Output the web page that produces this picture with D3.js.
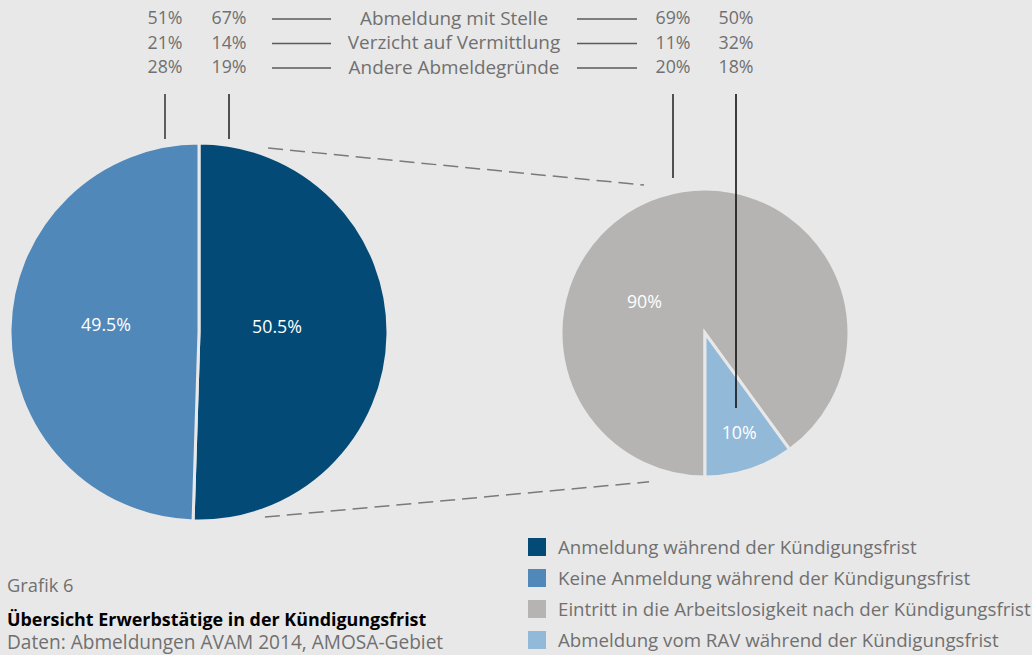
<!DOCTYPE html>
<html><head><meta charset="utf-8">
<script src="https://cdn.jsdelivr.net/npm/d3@7"></script>
<style>
html,body{margin:0;padding:0;background:#e8e8e8;}
svg{display:block;}
text{font-family:"Open Sans",sans-serif;}
</style></head>
<body>
<svg id="chart" width="1032" height="655"></svg>
<script>
// ---- data ----
const bigCategories = ["Anmeldung während der Kündigungsfrist", "Keine Anmeldung während der Kündigungsfrist"];
const bigValues = [50.5, 49.5];
const bigLabels = ["50.5%", "49.5%"];
const smallCategories = ["Eintritt in die Arbeitslosigkeit nach der Kündigungsfrist", "Abmeldung vom RAV während der Kündigungsfrist"];
const smallValues = [90, 10];
const smallLabels = ["90%", "10%"];
const reasons = ["Abmeldung mit Stelle", "Verzicht auf Vermittlung", "Andere Abmeldegründe"];
// columns: Keine Anmeldung, Anmeldung, Eintritt ALO, Abmeldung RAV
const reasonKeine = ["51%", "21%", "28%"];
const reasonAnmeldung = ["67%", "14%", "19%"];
const reasonEintritt = ["69%", "11%", "20%"];
const reasonAbmeldungRAV = ["50%", "32%", "18%"];
const legendItems = ["Anmeldung während der Kündigungsfrist", "Keine Anmeldung während der Kündigungsfrist", "Eintritt in die Arbeitslosigkeit nach der Kündigungsfrist", "Abmeldung vom RAV während der Kündigungsfrist"];
const titleSmall = "Grafik 6";
const titleMain = "Übersicht Erwerbstätige in der Kündigungsfrist";
const titleSource = "Daten: Abmeldungen AVAM 2014, AMOSA-Gebiet";

// ---- styles ----
const BG = "#e8e8e8";
const colors = ["#034b76", "#5088b9", "#b5b4b2", "#92b9d8"];
const textGray = "#707070";

const svg = d3.select("#chart");
svg.append("rect").attr("width", 1032).attr("height", 655).attr("fill", BG);

// ---- big pie ----
const big = {cx: 199, cy: 332, r: 189};
const bigPie = d3.pie().sort(null).startAngle(0).endAngle(2 * Math.PI)(bigValues);
const bigArc = d3.arc().innerRadius(0).outerRadius(big.r);
const gBig = svg.append("g").attr("transform", `translate(${big.cx},${big.cy})`);
gBig.selectAll("path").data(bigPie).join("path")
  .attr("d", bigArc)
  .attr("fill", (d, i) => colors[i])
  .attr("stroke", BG).attr("stroke-width", 3);
const bigLabelR = [78, 93];
gBig.selectAll("text").data(bigPie).join("text")
  .attr("x", (d, i) => bigLabelR[i] * Math.sin((d.startAngle + d.endAngle) / 2))
  .attr("y", (d, i) => -bigLabelR[i] * Math.cos((d.startAngle + d.endAngle) / 2) - 6)
  .attr("dy", "0.35em")
  .attr("text-anchor", "middle")
  .attr("fill", "#fff").attr("font-size", 17.8)
  .text((d, i) => bigLabels[i]);

// ---- small pie ----
const small = {cx: 705, cy: 333, r: 144};
const smallPie = d3.pie().sort(null).startAngle(Math.PI).endAngle(3 * Math.PI)(smallValues);
const smallArc = d3.arc().innerRadius(0).outerRadius(small.r);
const gSmall = svg.append("g").attr("transform", `translate(${small.cx},${small.cy})`);
gSmall.selectAll("path").data(smallPie).join("path")
  .attr("d", smallArc)
  .attr("fill", (d, i) => colors[2 + i])
  .attr("stroke", BG).attr("stroke-width", 3);
// label placement (angle in degrees clockwise from top, radius)
const smallLabelPos = [[297, 68], [161, 105]];
gSmall.selectAll("text").data(smallPie).join("text")
  .attr("x", (d, i) => smallLabelPos[i][1] * Math.sin(smallLabelPos[i][0] * Math.PI / 180))
  .attr("y", (d, i) => -smallLabelPos[i][1] * Math.cos(smallLabelPos[i][0] * Math.PI / 180))
  .attr("dy", "0.35em")
  .attr("text-anchor", "middle")
  .attr("fill", "#fff").attr("font-size", 17.8)
  .text((d, i) => smallLabels[i]);

// ---- connector dashed lines ----
function polar(c, ang, rr) { const a = ang * Math.PI / 180; return [c.cx + rr * Math.sin(a), c.cy - rr * Math.cos(a)]; }
const connectors = [
  [polar(big, 20.6, 196.5), polar(small, -22.4, 160)],
  [polar(big, 160.4, 196.5), polar(small, 200.6, 159)]
];
svg.selectAll("line.conn").data(connectors).join("line").attr("class", "conn")
  .attr("x1", d => d[0][0]).attr("y1", d => d[0][1])
  .attr("x2", d => d[1][0]).attr("y2", d => d[1][1])
  .attr("stroke", "#7a7a7a").attr("stroke-width", 1.5)
  .attr("stroke-dasharray", "15 7");

// ---- top table ----
const rowY = d3.scalePoint().domain(reasons).range([18, 67]);
const colX = [165, 229, 673, 736];
const columns = [reasonKeine, reasonAnmeldung, reasonEintritt, reasonAbmeldungRAV];
const gTable = svg.append("g");
columns.forEach((col, ci) => {
  gTable.selectAll(null).data(col).join("text")
    .attr("x", colX[ci]).attr("y", (d, i) => rowY(reasons[i]))
    .attr("dy", "0.35em").attr("text-anchor", "middle")
    .attr("fill", textGray).attr("font-size", 17.8)
    .text(d => d);
});
gTable.selectAll(null).data(reasons).join("text")
  .attr("x", 454).attr("y", d => rowY(d))
  .attr("dy", "0.35em").attr("text-anchor", "middle")
  .attr("fill", textGray).attr("font-size", 18.9)
  .text(d => d);
[[272, 331], [577, 637]].forEach(([a, b]) => {
  gTable.selectAll(null).data(reasons).join("line")
    .attr("x1", a).attr("x2", b)
    .attr("y1", d => rowY(d) + 1).attr("y2", d => rowY(d) + 1)
    .attr("stroke", "#5a5a5a").attr("stroke-width", 1.6);
});

// ---- vertical leader lines ----
const leaderEnds = [big.cy - big.r - 4, big.cy - big.r - 4, small.cy - small.r - 11, 408];
const leaderColors = ["#3a3a3a", "#2a2a2a", "#2a2a2a", "#111"];
svg.selectAll("line.lead").data(colX).join("line").attr("class", "lead")
  .attr("x1", d => d).attr("x2", d => d)
  .attr("y1", 94).attr("y2", (d, i) => leaderEnds[i])
  .attr("stroke", (d, i) => leaderColors[i]).attr("stroke-width", 1.6);

// ---- legend ----
const legY = d3.scalePoint().domain(legendItems).range([547, 640]);
const gLeg = svg.append("g");
gLeg.selectAll("rect").data(legendItems).join("rect")
  .attr("x", 528).attr("y", d => legY(d) - 9).attr("width", 18).attr("height", 18)
  .attr("fill", (d, i) => colors[i]);
gLeg.selectAll("text").data(legendItems).join("text")
  .attr("x", 558).attr("y", d => legY(d)).attr("dy", "0.35em")
  .attr("fill", textGray).attr("font-size", 18.7)
  .text(d => d);

// ---- titles ----
svg.append("text").attr("x", 7).attr("y", 592).attr("fill", textGray).attr("font-size", 18.3).text(titleSmall);
svg.append("text").attr("x", 7).attr("y", 626).attr("fill", "#000").attr("font-size", 17.9).attr("font-weight", "bold").text(titleMain);
svg.append("text").attr("x", 7).attr("y", 649).attr("fill", textGray).attr("font-size", 19.1).text(titleSource);
</script>
</body></html>
